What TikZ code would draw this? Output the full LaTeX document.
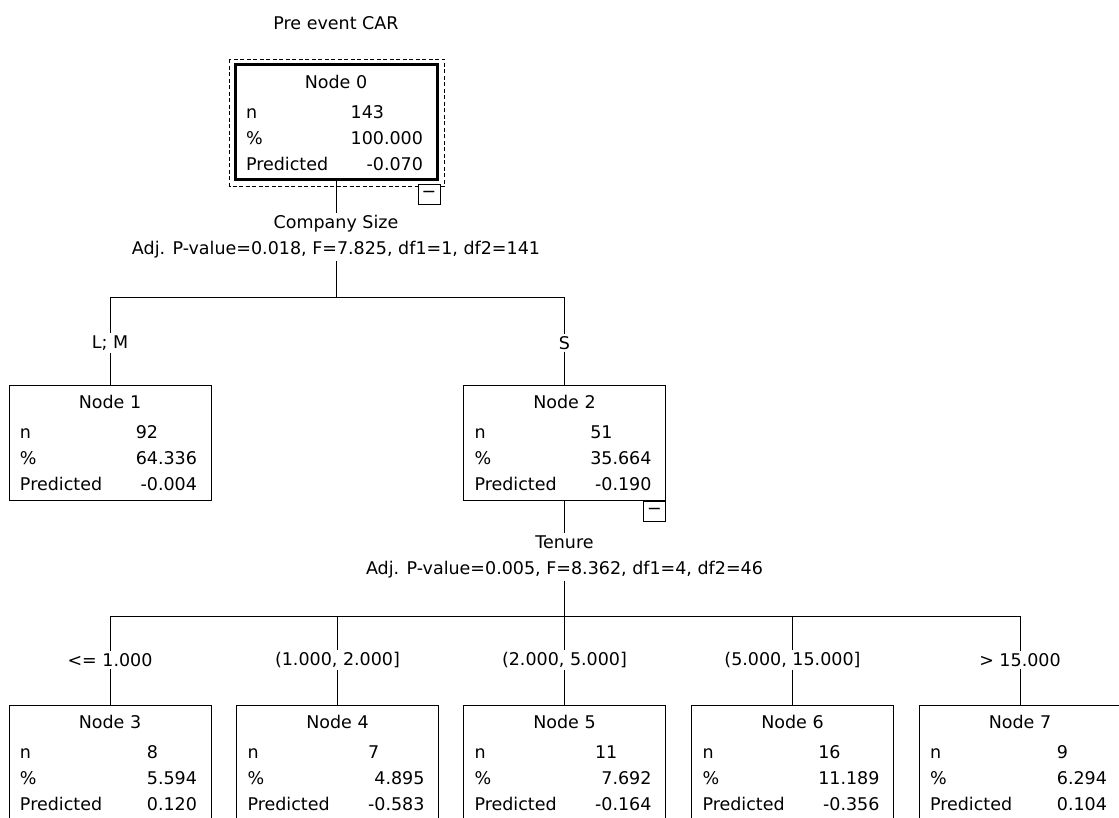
\documentclass[tikz,border=0pt]{standalone}
\usepackage{fontspec}
\setmainfont{DejaVu Sans}
\usepackage{array}
\usetikzlibrary{calc}

\newcommand{\nodetab}[4]{%
  \begin{tabular*}{202pt}{@{\hspace{11pt}\extracolsep{\fill}}lr@{\hspace{14pt}}}
  \multicolumn{2}{c}{\rule{0pt}{20.2pt}#1}\\[4pt]
  n & \multicolumn{1}{l}{#2}\\
  \% & #3\\
  Predicted & #4\\[-2pt]
  \end{tabular*}}

\begin{document}
\begin{tikzpicture}[x=1pt, y=-1pt, line width=1pt,
  every node/.style={font=\fontsize{17.5}{26}\selectfont, inner sep=2pt},
  box/.style={draw, inner xsep=0pt, inner ysep=3.5pt},
  minus/.style={draw, fill=white, inner sep=0pt, minimum width=22pt, minimum height=20pt}]
\useasboundingbox (0,0) rectangle (1119,817);
\clip (0,0) rectangle (1119,817);
% Nodes
\node (title) at (336,23) {Pre event CAR};
\node[box, line width=3pt] (n0) at (336,122) {\nodetab{Node 0}{143}{100.000}{-0.070}};
\draw[dash pattern=on 4pt off 2.5pt] ($(n0.north west)+(-4,-4)$) rectangle ($(n0.south east)+(6,5)$);
\node[minus, anchor=north east] (m0) at ($(n0.south east)+(2,3)$) {−};
\node[align=center] (s0) at (336,237) {Company Size\\Adj. P-value=0.018, F=7.825, df1=1, df2=141};
\node (e1) at (110,343) {L; M};
\node (e2) at (564.5,343) {S};
\node[box] (n1) at (110,442.5) {\nodetab{Node 1}{92}{64.336}{-0.004}};
\node[box] (n2) at (564.5,442.5) {\nodetab{Node 2}{51}{35.664}{-0.190}};
\node[minus, anchor=north east] (m2) at (n2.south east) {−};
\node[align=center] (s2) at (564.5,557) {Tenure\\Adj. P-value=0.005, F=8.362, df1=4, df2=46};
\node (e3) at (110,660) {<= 1.000};
\node (e4) at (337.5,660) {(1.000, 2.000]};
\node (e5) at (564.5,660) {(2.000, 5.000]};
\node (e6) at (792.5,660) {(5.000, 15.000]};
\node (e7) at (1020,660) {> 15.000};
\node[box] (n3) at (110,762.5) {\nodetab{Node 3}{8}{5.594}{0.120}};
\node[box] (n4) at (337.5,762.5) {\nodetab{Node 4}{7}{4.895}{-0.583}};
\node[box] (n5) at (564.5,762.5) {\nodetab{Node 5}{11}{7.692}{-0.164}};
\node[box] (n6) at (792.5,762.5) {\nodetab{Node 6}{16}{11.189}{-0.356}};
\node[box] (n7) at (1020,762.5) {\nodetab{Node 7}{9}{6.294}{0.104}};
\coordinate (b0) at (336,297);
\coordinate (c1) at (110,297);
\coordinate (c2) at (564.5,297);
\coordinate (b2) at (564.5,616);
\coordinate (c3) at (110,616);
\coordinate (c4) at (337.5,616);
\coordinate (c5) at (564.5,616);
\coordinate (c6) at (792.5,616);
\coordinate (c7) at (1020,616);
% Edges
\draw (n0) -- (s0);
\draw (s0) -- (b0);
\draw (c1) -- (c2);
\draw (c1) -- (e1) -- (n1);
\draw (c2) -- (e2) -- (n2);
\draw (n2) -- (s2);
\draw (s2) -- (b2);
\draw (c3) -- (c7);
\draw (c3) -- (e3) -- (n3);
\draw (c4) -- (e4) -- (n4);
\draw (c5) -- (e5) -- (n5);
\draw (c6) -- (e6) -- (n6);
\draw (c7) -- (e7) -- (n7);
\end{tikzpicture}
\end{document}
